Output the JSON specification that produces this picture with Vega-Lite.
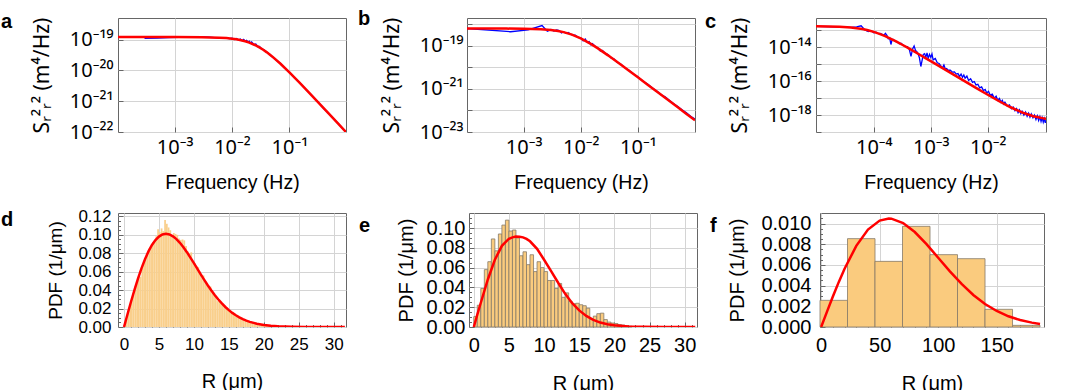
{
"$schema": "https://vega.github.io/schema/vega-lite/v6.json",
"padding": {"left": 0, "top": 8, "right": 5, "bottom": 0},
"bounds": "full",
"spacing": 14,
"datasets": {
"aBlue": [{"f":0.0003,"s":1.10e-19},{"f":0.0005,"s":1.13e-19},{"f":0.0008,"s":1.17e-19},{"f":0.0012,"s":1.20e-19},{"f":0.002,"s":1.22e-19},{"f":0.003,"s":1.23e-19},{"f":0.004,"s":1.20e-19},{"f":0.005,"s":1.17e-19},{"f":0.006,"s":1.12e-19},{"f":0.007,"s":1.15e-19},{"f":0.008,"s":1.12e-19},{"f":0.009,"s":1.08e-19},{"f":0.010,"s":1.12e-19},{"f":0.011,"s":1.02e-19},{"f":0.012,"s":1.09e-19},{"f":0.013,"s":0.97e-19},{"f":0.014,"s":1.05e-19},{"f":0.015,"s":0.93e-19},{"f":0.016,"s":1.02e-19},{"f":0.017,"s":0.90e-19},{"f":0.018,"s":0.96e-19},{"f":0.019,"s":0.84e-19},{"f":0.020,"s":0.90e-19},{"f":0.021,"s":0.78e-19},{"f":0.022,"s":0.84e-19},{"f":0.024,"s":0.70e-19},{"f":0.026,"s":0.72e-19},{"f":0.028,"s":0.60e-19},{"f":0.030,"s":0.60e-19},{"f":0.033,"s":0.50e-19},{"f":0.036,"s":0.47e-19},{"f":0.040,"s":0.40e-19},{"f":0.045,"s":0.34e-19},{"f":0.050,"s":0.28e-19},{"f":0.06,"s":2.1e-20},{"f":0.07,"s":1.68e-20},{"f":0.08,"s":1.27e-20},{"f":0.1,"s":8.9e-21},{"f":0.12,"s":6.0e-21},{"f":0.15,"s":4.1e-21},{"f":0.2,"s":2.25e-21},{"f":0.25,"s":1.52e-21},{"f":0.3,"s":1.05e-21},{"f":0.4,"s":5.7e-22},{"f":0.5,"s":3.8e-22},{"f":0.6,"s":2.6e-22},{"f":0.7,"s":1.95e-22},{"f":0.8,"s":1.45e-22},{"f":0.968,"s":1.0e-22}],
"aFit": [{"f":0.0001035,"s":1.22e-19},{"f":0.001,"s":1.218e-19},{"f":0.003,"s":1.206e-19},{"f":0.006,"s":1.165e-19},{"f":0.008,"s":1.126e-19},{"f":0.01,"s":1.079e-19},{"f":0.012,"s":1.027e-19},{"f":0.015,"s":9.43e-20},{"f":0.017,"s":8.86e-20},{"f":0.02,"s":8.02e-20},{"f":0.025,"s":6.72e-20},{"f":0.03,"s":5.61e-20},{"f":0.035,"s":4.70e-20},{"f":0.04,"s":3.95e-20},{"f":0.05,"s":2.865e-20},{"f":0.07,"s":1.652e-20},{"f":0.1,"s":8.69e-21},{"f":0.15,"s":4.02e-21},{"f":0.2,"s":2.296e-21},{"f":0.3,"s":1.031e-21},{"f":0.5,"s":3.733e-22},{"f":0.7,"s":1.908e-22},{"f":0.968,"s":9.98e-23}],
"bBlue": [{"f":0.000102,"s":6.5e-19},{"f":0.00059,"s":4.6e-19},{"f":0.0012,"s":5.6e-19},{"f":0.0021,"s":8.9e-19},{"f":0.0026,"s":4.9e-19},{"f":0.003,"s":5.8e-19},{"f":0.0034,"s":5.0e-19},{"f":0.0038,"s":5.6e-19},{"f":0.0042,"s":5.2e-19},{"f":0.0046,"s":4.0e-19},{"f":0.005,"s":4.6e-19},{"f":0.0055,"s":3.9e-19},{"f":0.006,"s":4.2e-19},{"f":0.007,"s":3.3e-19},{"f":0.008,"s":3.2e-19},{"f":0.009,"s":2.5e-19},{"f":0.010,"s":2.4e-19},{"f":0.011,"s":1.75e-19},{"f":0.012,"s":2.1e-19},{"f":0.013,"s":1.45e-19},{"f":0.014,"s":1.6e-19},{"f":0.015,"s":1.15e-19},{"f":0.016,"s":1.3e-19},{"f":0.018,"s":0.95e-19},{"f":0.020,"s":0.8e-19},{"f":0.022,"s":0.58e-19},{"f":0.024,"s":0.62e-19},{"f":0.027,"s":0.45e-19},{"f":0.030,"s":0.40e-19},{"f":0.034,"s":0.28e-19},{"f":0.038,"s":0.25e-19},{"f":0.043,"s":1.75e-20},{"f":0.05,"s":1.45e-20},{"f":0.06,"s":0.95e-20},{"f":0.07,"s":7.4e-21},{"f":0.085,"s":4.8e-21},{"f":0.1,"s":3.7e-21},{"f":0.12,"s":2.4e-21},{"f":0.15,"s":1.65e-21},{"f":0.18,"s":1.1e-21},{"f":0.22,"s":7.6e-22},{"f":0.26,"s":5.2e-22},{"f":0.3,"s":4.3e-22},{"f":0.36,"s":2.9e-22},{"f":0.42,"s":2.1e-22},{"f":0.5,"s":1.55e-22},{"f":0.6,"s":1.05e-22},{"f":0.7,"s":8.0e-23},{"f":0.85,"s":5.3e-23},{"f":1.0,"s":4.0e-23}],
"bFit": [{"f":0.000102,"s":6.46e-19},{"f":0.0005,"s":6.43e-19},{"f":0.001,"s":6.34e-19},{"f":0.002,"s":6.015e-19},{"f":0.003,"s":5.54e-19},{"f":0.004,"s":4.987e-19},{"f":0.005,"s":4.42e-19},{"f":0.007,"s":3.392e-19},{"f":0.01,"s":2.27e-19},{"f":0.015,"s":1.253e-19},{"f":0.02,"s":7.705e-20},{"f":0.03,"s":3.668e-20},{"f":0.05,"s":1.37e-20},{"f":0.07,"s":7.063e-21},{"f":0.1,"s":3.48e-21},{"f":0.15,"s":1.551e-21},{"f":0.2,"s":8.737e-22},{"f":0.3,"s":3.887e-22},{"f":0.5,"s":1.4e-22},{"f":0.7,"s":7.14e-23},{"f":1.0,"s":3.5e-23}],
"cBlue": [{"f":1.0e-5,"s":1.70e-13},{"f":2.0e-5,"s":1.62e-13},{"f":3.0e-5,"s":1.55e-13},{"f":4.0e-5,"s":1.50e-13},{"f":5.0e-5,"s":1.58e-13},{"f":6.0e-5,"s":1.85e-13},{"f":7.0e-5,"s":1.05e-13},{"f":8.0e-5,"s":8.5e-14},{"f":9.0e-5,"s":9.5e-14},{"f":1.0e-4,"s":7.2e-14},{"f":1.1e-4,"s":7.8e-14},{"f":1.2e-4,"s":6.3e-14},{"f":1.3e-4,"s":6.5e-14},{"f":1.4e-4,"s":5.8e-14},{"f":1.5e-4,"s":5.0e-14},{"f":1.6e-4,"s":6.6e-14},{"f":1.7e-4,"s":5.0e-14},{"f":1.8e-4,"s":3.2e-14},{"f":1.9e-4,"s":3.6e-14},{"f":2.0e-4,"s":1.45e-14},{"f":2.1e-4,"s":2.8e-14},{"f":2.2e-4,"s":2.9e-14},{"f":2.4e-4,"s":2.2e-14},{"f":2.6e-4,"s":2.0e-14},{"f":2.8e-4,"s":1.6e-14},{"f":3.0e-4,"s":1.7e-14},{"f":3.3e-4,"s":1.3e-14},{"f":3.6e-4,"s":1.1e-14},{"f":3.9e-4,"s":1.1e-14},{"f":4.2e-4,"s":7.5e-15},{"f":4.5e-4,"s":2.9e-15},{"f":4.8e-4,"s":8.0e-15},{"f":5.1e-4,"s":1.2e-14},{"f":5.4e-4,"s":6.5e-15},{"f":5.7e-4,"s":5.5e-15},{"f":6.0e-4,"s":4.0e-15},{"f":6.3e-4,"s":2.5e-15},{"f":6.7e-4,"s":7.3e-16},{"f":7.0e-4,"s":1.5e-15},{"f":7.4e-4,"s":3.8e-15},{"f":7.8e-4,"s":4.2e-15},{"f":8.2e-4,"s":2.6e-15},{"f":8.6e-4,"s":4.6e-15},{"f":9.0e-4,"s":2.2e-15},{"f":9.5e-4,"s":3.8e-15},{"f":1.0e-3,"s":2.5e-15},{"f":1.05e-3,"s":4.0e-15},{"f":1.1e-3,"s":1.8e-15},{"f":1.2e-3,"s":2.2e-15},{"f":1.3e-3,"s":1.2e-15},{"f":1.4e-3,"s":1.1e-15},{"f":1.5e-3,"s":8.0e-16},{"f":1.6e-3,"s":6.0e-16},{"f":1.7e-3,"s":9.0e-16},{"f":1.8e-3,"s":5.2e-16},{"f":1.9e-3,"s":5.5e-16},{"f":2.0e-3,"s":4.4e-16},{"f":2.2e-3,"s":4.5e-16},{"f":2.4e-3,"s":3.4e-16},{"f":2.6e-3,"s":3.5e-16},{"f":2.8e-3,"s":2.6e-16},{"f":3.0e-3,"s":2.8e-16},{"f":3.2e-3,"s":1.9e-16},{"f":3.4e-3,"s":2.6e-16},{"f":3.6e-3,"s":1.7e-16},{"f":3.8e-3,"s":2.3e-16},{"f":4.0e-3,"s":1.5e-16},{"f":4.3e-3,"s":2.0e-16},{"f":4.6e-3,"s":1.1e-16},{"f":5.0e-3,"s":1.4e-16},{"f":5.4e-3,"s":8.5e-17},{"f":5.8e-3,"s":9.5e-17},{"f":6.2e-3,"s":6.0e-17},{"f":6.7e-3,"s":6.5e-17},{"f":7.2e-3,"s":4.0e-17},{"f":7.8e-3,"s":4.6e-17},{"f":8.4e-3,"s":2.8e-17},{"f":9.0e-3,"s":3.2e-17},{"f":9.6e-3,"s":2.0e-17},{"f":0.0103,"s":2.5e-17},{"f":0.011,"s":1.5e-17},{"f":0.012,"s":1.7e-17},{"f":0.013,"s":1.0e-17},{"f":0.014,"s":1.3e-17},{"f":0.015,"s":7.5e-18},{"f":0.016,"s":9.5e-18},{"f":0.017,"s":5.8e-18},{"f":0.018,"s":7.4e-18},{"f":0.019,"s":4.5e-18},{"f":0.020,"s":5.8e-18},{"f":0.022,"s":3.4e-18},{"f":0.024,"s":4.0e-18},{"f":0.026,"s":2.4e-18},{"f":0.028,"s":3.0e-18},{"f":0.030,"s":1.8e-18},{"f":0.032,"s":2.4e-18},{"f":0.034,"s":1.4e-18},{"f":0.036,"s":2.0e-18},{"f":0.038,"s":1.2e-18},{"f":0.040,"s":1.7e-18},{"f":0.043,"s":1.0e-18},{"f":0.046,"s":1.5e-18},{"f":0.049,"s":8.5e-19},{"f":0.052,"s":1.3e-18},{"f":0.055,"s":7.5e-19},{"f":0.058,"s":1.15e-18},{"f":0.062,"s":6.8e-19},{"f":0.066,"s":1.0e-18},{"f":0.070,"s":5.5e-19},{"f":0.074,"s":9.0e-19},{"f":0.078,"s":4.8e-19},{"f":0.082,"s":8.0e-19},{"f":0.086,"s":4.2e-19},{"f":0.090,"s":7.0e-19},{"f":0.094,"s":3.8e-19},{"f":0.098,"s":6.2e-19},{"f":0.102,"s":3.5e-19},{"f":0.105,"s":5.0e-19}],
"cFit": [{"f":9.7e-6,"s":1.70e-13},{"f":1.585e-5,"s":1.67e-13},{"f":2.512e-5,"s":1.603e-13},{"f":3.981e-5,"s":1.459e-13},{"f":6.31e-5,"s":1.186e-13},{"f":7.943e-5,"s":1.005e-13},{"f":1e-4,"s":8.07e-14},{"f":1.259e-4,"s":6.17e-14},{"f":1.585e-4,"s":4.49e-14},{"f":1.995e-4,"s":3.13e-14},{"f":2.512e-4,"s":2.12e-14},{"f":3.162e-4,"s":1.40e-14},{"f":3.981e-4,"s":9.10e-15},{"f":5.012e-4,"s":5.86e-15},{"f":6.31e-4,"s":3.74e-15},{"f":7.943e-4,"s":2.38e-15},{"f":1e-3,"s":1.51e-15},{"f":1.585e-3,"s":6.03e-16},{"f":2.512e-3,"s":2.42e-16},{"f":3.981e-3,"s":9.6e-17},{"f":6.31e-3,"s":3.88e-17},{"f":0.01,"s":1.57e-17},{"f":0.01585,"s":6.53e-18},{"f":0.02512,"s":2.88e-18},{"f":0.03981,"s":1.43e-18},{"f":0.0631,"s":8.48e-19},{"f":0.1,"s":6.17e-19},{"f":0.1054,"s":6.02e-19}],
"dBars": [{"r0":0.00,"r1":0.25,"p":0.0030},{"r0":0.25,"r1":0.50,"p":0.0095},{"r0":0.50,"r1":0.75,"p":0.0180},{"r0":0.75,"r1":1.00,"p":0.0235},{"r0":1.00,"r1":1.25,"p":0.0320},{"r0":1.25,"r1":1.50,"p":0.0350},{"r0":1.50,"r1":1.75,"p":0.0445},{"r0":1.75,"r1":2.00,"p":0.0480},{"r0":2.00,"r1":2.25,"p":0.0560},{"r0":2.25,"r1":2.50,"p":0.0545},{"r0":2.50,"r1":2.75,"p":0.0640},{"r0":2.75,"r1":3.00,"p":0.0700},{"r0":3.00,"r1":3.25,"p":0.0760},{"r0":3.25,"r1":3.50,"p":0.0780},{"r0":3.50,"r1":3.75,"p":0.0850},{"r0":3.75,"r1":4.00,"p":0.0860},{"r0":4.00,"r1":4.25,"p":0.0920},{"r0":4.25,"r1":4.50,"p":0.0930},{"r0":4.50,"r1":4.75,"p":0.0985},{"r0":4.75,"r1":5.00,"p":0.1060},{"r0":5.00,"r1":5.25,"p":0.1030},{"r0":5.25,"r1":5.50,"p":0.1070},{"r0":5.50,"r1":5.75,"p":0.1040},{"r0":5.75,"r1":6.00,"p":0.1160},{"r0":6.00,"r1":6.25,"p":0.1120},{"r0":6.25,"r1":6.50,"p":0.1080},{"r0":6.50,"r1":6.75,"p":0.1050},{"r0":6.75,"r1":7.00,"p":0.0990},{"r0":7.00,"r1":7.25,"p":0.1020},{"r0":7.25,"r1":7.50,"p":0.1010},{"r0":7.50,"r1":7.75,"p":0.1000},{"r0":7.75,"r1":8.00,"p":0.0960},{"r0":8.00,"r1":8.25,"p":0.0945},{"r0":8.25,"r1":8.50,"p":0.0950},{"r0":8.50,"r1":8.75,"p":0.0940},{"r0":8.75,"r1":9.00,"p":0.0880},{"r0":9.00,"r1":9.25,"p":0.0820},{"r0":9.25,"r1":9.50,"p":0.0800},{"r0":9.50,"r1":9.75,"p":0.0810},{"r0":9.75,"r1":10.00,"p":0.0700},{"r0":10.00,"r1":10.25,"p":0.0690},{"r0":10.25,"r1":10.50,"p":0.0660},{"r0":10.50,"r1":10.75,"p":0.0650},{"r0":10.75,"r1":11.00,"p":0.0600},{"r0":11.00,"r1":11.25,"p":0.0530},{"r0":11.25,"r1":11.50,"p":0.0560},{"r0":11.50,"r1":11.75,"p":0.0490},{"r0":11.75,"r1":12.00,"p":0.0470},{"r0":12.00,"r1":12.25,"p":0.0420},{"r0":12.25,"r1":12.50,"p":0.0440},{"r0":12.50,"r1":12.75,"p":0.0380},{"r0":12.75,"r1":13.00,"p":0.0360},{"r0":13.00,"r1":13.25,"p":0.0330},{"r0":13.25,"r1":13.50,"p":0.0280},{"r0":13.50,"r1":13.75,"p":0.0300},{"r0":13.75,"r1":14.00,"p":0.0270},{"r0":14.00,"r1":14.25,"p":0.0240},{"r0":14.25,"r1":14.50,"p":0.0230},{"r0":14.50,"r1":14.75,"p":0.0215},{"r0":14.75,"r1":15.00,"p":0.0190},{"r0":15.00,"r1":15.25,"p":0.0175},{"r0":15.25,"r1":15.50,"p":0.0165},{"r0":15.50,"r1":15.75,"p":0.0145},{"r0":15.75,"r1":16.00,"p":0.0135},{"r0":16.00,"r1":16.25,"p":0.0120},{"r0":16.25,"r1":16.50,"p":0.0112},{"r0":16.50,"r1":16.75,"p":0.0100},{"r0":16.75,"r1":17.00,"p":0.0092},{"r0":17.00,"r1":17.25,"p":0.0080},{"r0":17.25,"r1":17.50,"p":0.0075},{"r0":17.50,"r1":17.75,"p":0.0068},{"r0":17.75,"r1":18.00,"p":0.0058},{"r0":18.00,"r1":18.25,"p":0.0054},{"r0":18.25,"r1":18.50,"p":0.0047},{"r0":18.50,"r1":18.75,"p":0.0044},{"r0":18.75,"r1":19.00,"p":0.0037},{"r0":19.00,"r1":19.25,"p":0.0034},{"r0":19.25,"r1":19.50,"p":0.0029},{"r0":19.50,"r1":19.75,"p":0.0027},{"r0":19.75,"r1":20.00,"p":0.0022},{"r0":20.00,"r1":20.25,"p":0.0020},{"r0":20.25,"r1":20.50,"p":0.0018},{"r0":20.50,"r1":20.75,"p":0.0015},{"r0":20.75,"r1":21.00,"p":0.0013},{"r0":21.00,"r1":21.25,"p":0.0012},{"r0":21.25,"r1":21.50,"p":0.0010},{"r0":21.50,"r1":21.75,"p":0.0008},{"r0":21.75,"r1":22.00,"p":0.0007},{"r0":22.00,"r1":22.25,"p":0.0006},{"r0":22.25,"r1":22.50,"p":0.0005},{"r0":22.50,"r1":22.75,"p":0.0004},{"r0":22.75,"r1":23.00,"p":0.0004},{"r0":23.00,"r1":23.25,"p":0.0003},{"r0":23.25,"r1":23.50,"p":0.0003},{"r0":23.50,"r1":23.75,"p":0.0002},{"r0":23.75,"r1":24.00,"p":0.0002}],
"dFit": [{"r":0,"p":0},{"r":0.5,"p":0.01384},{"r":1,"p":0.0274},{"r":1.5,"p":0.04039},{"r":2,"p":0.0526},{"r":2.5,"p":0.06367},{"r":3,"p":0.0735},{"r":3.5,"p":0.08201},{"r":4,"p":0.089},{"r":4.5,"p":0.09436},{"r":5,"p":0.0981},{"r":5.5,"p":0.10038},{"r":6,"p":0.1011},{"r":6.5,"p":0.10041},{"r":7,"p":0.0984},{"r":7.5,"p":0.09538},{"r":8,"p":0.0914},{"r":8.5,"p":0.08656},{"r":9,"p":0.0812},{"r":9.5,"p":0.07534},{"r":10,"p":0.0693},{"r":10.5,"p":0.06307},{"r":11,"p":0.0569},{"r":11.5,"p":0.05089},{"r":12,"p":0.0451},{"r":12.5,"p":0.03964},{"r":13,"p":0.0345},{"r":13.5,"p":0.02984},{"r":14,"p":0.0256},{"r":14.5,"p":0.02173},{"r":15,"p":0.0183},{"r":15.5,"p":0.01531},{"r":16,"p":0.0127},{"r":16.5,"p":0.01045},{"r":17,"p":0.0085},{"r":17.5,"p":0.00691},{"r":18,"p":0.0056},{"r":19,"p":0.0035},{"r":20,"p":0.0022},{"r":21,"p":0.0013},{"r":22,"p":0.00074},{"r":23,"p":0.00041},{"r":24,"p":0.00022},{"r":26,"p":0.00006},{"r":28,"p":0.000015},{"r":31.6,"p":0}],
"eBars": [{"r0":0,"r1":0.5,"p":0.0105},{"r0":0.5,"r1":1,"p":0.022},{"r0":1,"r1":1.5,"p":0.039},{"r0":1.5,"r1":2,"p":0.058},{"r0":2,"r1":2.5,"p":0.066},{"r0":2.5,"r1":3,"p":0.089},{"r0":3,"r1":3.5,"p":0.077},{"r0":3.5,"r1":4,"p":0.094},{"r0":4,"r1":4.5,"p":0.103},{"r0":4.5,"r1":5,"p":0.108},{"r0":5,"r1":5.5,"p":0.097},{"r0":5.5,"r1":6,"p":0.098},{"r0":6,"r1":6.5,"p":0.090},{"r0":6.5,"r1":7,"p":0.072},{"r0":7,"r1":7.5,"p":0.076},{"r0":7.5,"r1":8,"p":0.063},{"r0":8,"r1":8.5,"p":0.073},{"r0":8.5,"r1":9,"p":0.056},{"r0":9,"r1":9.5,"p":0.066},{"r0":9.5,"r1":10,"p":0.060},{"r0":10,"r1":10.5,"p":0.056},{"r0":10.5,"r1":11,"p":0.047},{"r0":11,"r1":11.5,"p":0.047},{"r0":11.5,"r1":12,"p":0.039},{"r0":12,"r1":12.5,"p":0.044},{"r0":12.5,"r1":13,"p":0.030},{"r0":13,"r1":13.5,"p":0.0345},{"r0":13.5,"r1":14,"p":0.026},{"r0":14,"r1":14.5,"p":0.0235},{"r0":14.5,"r1":15,"p":0.024},{"r0":15,"r1":15.5,"p":0.0225},{"r0":15.5,"r1":16,"p":0.0215},{"r0":16,"r1":16.5,"p":0.019},{"r0":16.5,"r1":17,"p":0.008},{"r0":17,"r1":17.5,"p":0.011},{"r0":17.5,"r1":18,"p":0.0135},{"r0":18,"r1":18.5,"p":0.014},{"r0":18.5,"r1":19,"p":0.0075},{"r0":19,"r1":19.5,"p":0.005},{"r0":19.5,"r1":20,"p":0.004},{"r0":20,"r1":20.5,"p":0.0035},{"r0":20.5,"r1":21,"p":0.0025},{"r0":21,"r1":21.5,"p":0.002},{"r0":21.5,"r1":22,"p":0.0012},{"r0":22,"r1":22.5,"p":0.0008}],
"eFit": [{"r":0,"p":0},{"r":0.5,"p":0.0125},{"r":1,"p":0.0245},{"r":2,"p":0.048},{"r":3,"p":0.068},{"r":4,"p":0.082},{"r":5,"p":0.0892},{"r":5.5,"p":0.0906},{"r":6,"p":0.0915},{"r":6.5,"p":0.0913},{"r":7,"p":0.0906},{"r":7.5,"p":0.089},{"r":8,"p":0.0866},{"r":9,"p":0.079},{"r":10,"p":0.068},{"r":11,"p":0.0565},{"r":12,"p":0.0447},{"r":13,"p":0.0335},{"r":14,"p":0.024},{"r":15,"p":0.0168},{"r":16,"p":0.0112},{"r":17,"p":0.0072},{"r":18,"p":0.0045},{"r":19,"p":0.0028},{"r":20,"p":0.0017},{"r":22,"p":0.0006},{"r":24,"p":0.0002},{"r":27,"p":0.00003},{"r":31.5,"p":0}],
"fBars": [{"r0":-1,"r1":22.5,"p":0.00258},{"r0":22.5,"r1":46,"p":0.00855},{"r0":46,"r1":69.5,"p":0.00635},{"r0":69.5,"r1":93,"p":0.00974},{"r0":93,"r1":116.5,"p":0.0070},{"r0":116.5,"r1":140,"p":0.00661},{"r0":140,"r1":163.5,"p":0.00171},{"r0":163.5,"r1":187,"p":0.00016}],
"fFit": [{"r":0,"p":0},{"r":5,"p":0.001488},{"r":10,"p":0.002949},{"r":15,"p":0.00434},{"r":20,"p":0.005638},{"r":30,"p":0.007848},{"r":40,"p":0.009423},{"r":50,"p":0.010295},{"r":57.8,"p":0.010494},{"r":60,"p":0.010479},{"r":70,"p":0.010063},{"r":80,"p":0.009188},{"r":90,"p":0.008014},{"r":100,"p":0.006701},{"r":110,"p":0.005383},{"r":120,"p":0.004163},{"r":130,"p":0.003102},{"r":140,"p":0.00223},{"r":150,"p":0.001548},{"r":160,"p":0.001038},{"r":170,"p":0.000673},{"r":180,"p":0.000422},{"r":187,"p":0.000299}]
},
"vconcat": [
{"hconcat": [
 {"width": 228, "height": 114,
  "title": {"text": "a", "anchor": "start", "frame": "group", "offset": -31, "dx": -117, "baseline": "alphabetic", "fontSize": 20, "fontWeight": "bold", "color": "#000"},
  "layer": [
   {"data": {"name": "aBlue"}, "mark": {"type": "line", "color": "#0000ff", "strokeWidth": 1.3, "clip": true},
    "encoding": {
     "x": {"field": "f", "type": "quantitative", "title": "Frequency (Hz)", "scale": {"type": "log", "domain": [0.0001035, 0.968], "nice": false},
      "axis": {"values": [0.001, 0.01, 0.1], "labelExpr": "datum.value < 0.003 ? '10⁻³' : datum.value < 0.03 ? '10⁻²' : '10⁻¹'", "labelFont": "Noto Sans", "labelFontSize": 20, "labelPadding": 10, "titleFontSize": 19.5, "titlePadding": 16}},
     "y": {"field": "s", "type": "quantitative", "title": "Sᵣ²ᵣ² (m⁴/Hz)", "scale": {"type": "log", "domain": [1e-22, 5.07e-19], "nice": false},
      "axis": {"values": [1e-22, 1e-21, 1e-20, 1e-19], "labelExpr": "datum.value < 3e-22 ? '10⁻²²' : datum.value < 3e-21 ? '10⁻²¹' : datum.value < 3e-20 ? '10⁻²⁰' : '10⁻¹⁹'", "labelFont": "Noto Sans", "labelFontSize": 20, "labelPadding": 10, "titleFont": "Noto Sans", "titleFontSize": 21, "titlePadding": 17}}
    }},
   {"data": {"name": "aFit"}, "mark": {"type": "line", "color": "#ff0000", "strokeWidth": 2.5, "clip": true},
    "encoding": {"x": {"field": "f", "type": "quantitative", "title": "Frequency (Hz)"}, "y": {"field": "s", "type": "quantitative", "title": "Sᵣ²ᵣ² (m⁴/Hz)"}}}
  ]},
 {"width": 228, "height": 114,
  "title": {"text": "b", "anchor": "start", "frame": "group", "offset": -31, "dx": -109, "baseline": "alphabetic", "fontSize": 20, "fontWeight": "bold", "color": "#000"},
  "layer": [
   {"data": {"name": "bBlue"}, "mark": {"type": "line", "color": "#0000ff", "strokeWidth": 1.3, "clip": true},
    "encoding": {
     "x": {"field": "f", "type": "quantitative", "title": "Frequency (Hz)", "scale": {"type": "log", "domain": [0.000102, 1.0], "nice": false},
      "axis": {"values": [0.001, 0.01, 0.1], "labelExpr": "datum.value < 0.003 ? '10⁻³' : datum.value < 0.03 ? '10⁻²' : '10⁻¹'", "labelFont": "Noto Sans", "labelFontSize": 20, "labelPadding": 10, "titleFontSize": 19.5, "titlePadding": 16}},
     "y": {"field": "s", "type": "quantitative", "title": "Sᵣ²ᵣ² (m⁴/Hz)", "scale": {"type": "log", "domain": [1e-23, 2.0e-18], "nice": false},
      "axis": {"values": [1e-23, 1e-22, 1e-21, 1e-20, 1e-19, 1e-18], "labelExpr": "datum.value < 3e-23 ? '10⁻²³' : datum.value < 3e-22 ? '' : datum.value < 3e-21 ? '10⁻²¹' : datum.value < 3e-20 ? '' : datum.value < 3e-19 ? '10⁻¹⁹' : ''", "labelFont": "Noto Sans", "labelFontSize": 20, "labelPadding": 9, "titleFont": "Noto Sans", "titleFontSize": 21, "titlePadding": 17}}
    }},
   {"data": {"name": "bFit"}, "mark": {"type": "line", "color": "#ff0000", "strokeWidth": 2.5, "clip": true},
    "encoding": {"x": {"field": "f", "type": "quantitative", "title": "Frequency (Hz)"}, "y": {"field": "s", "type": "quantitative", "title": "Sᵣ²ᵣ² (m⁴/Hz)"}}}
  ]},
 {"width": 230, "height": 114,
  "title": {"text": "c", "anchor": "start", "frame": "group", "offset": -31, "dx": -111, "baseline": "alphabetic", "fontSize": 20, "fontWeight": "bold", "color": "#000"},
  "layer": [
   {"data": {"name": "cBlue"}, "mark": {"type": "line", "color": "#0000ff", "strokeWidth": 1.3, "clip": true},
    "encoding": {
     "x": {"field": "f", "type": "quantitative", "title": "Frequency (Hz)", "scale": {"type": "log", "domain": [0.0000097, 0.105], "nice": false},
      "axis": {"values": [0.0001, 0.001, 0.01], "labelExpr": "datum.value < 0.0003 ? '10⁻⁴' : datum.value < 0.003 ? '10⁻³' : '10⁻²'", "labelFont": "Noto Sans", "labelFontSize": 20, "labelPadding": 10, "titleFontSize": 19.5, "titlePadding": 16}},
     "y": {"field": "s", "type": "quantitative", "title": "Sᵣ²ᵣ² (m⁴/Hz)", "scale": {"type": "log", "domain": [1e-19, 5.3e-13], "nice": false},
      "axis": {"values": [1e-19, 1e-18, 1e-17, 1e-16, 1e-15, 1e-14, 1e-13], "labelExpr": "datum.value < 3e-19 ? '' : datum.value < 3e-18 ? '10⁻¹⁸' : datum.value < 3e-17 ? '' : datum.value < 3e-16 ? '10⁻¹⁶' : datum.value < 3e-15 ? '' : datum.value < 3e-14 ? '10⁻¹⁴' : ''", "labelFont": "Noto Sans", "labelFontSize": 20, "labelPadding": 10, "titleFont": "Noto Sans", "titleFontSize": 21, "titlePadding": 17}}
    }},
   {"data": {"name": "cFit"}, "mark": {"type": "line", "color": "#ff0000", "strokeWidth": 2.5, "clip": true},
    "encoding": {"x": {"field": "f", "type": "quantitative", "title": "Frequency (Hz)"}, "y": {"field": "s", "type": "quantitative", "title": "Sᵣ²ᵣ² (m⁴/Hz)"}}}
  ]}
 ], "spacing": 121, "bounds": "flush"},
{"hconcat": [
 {"width": 228, "height": 114,
  "title": {"text": "d", "anchor": "start", "frame": "group", "offset": -39, "dx": -117, "baseline": "alphabetic", "fontSize": 20, "fontWeight": "bold", "color": "#000"},
  "layer": [
   {"data": {"name": "dBars"}, "mark": {"type": "rect", "fill": "#F9CF8C", "strokeWidth": 0},
    "encoding": {
     "x": {"field": "r0", "type": "quantitative", "title": "R (μm)", "scale": {"domain": [-0.86, 31.76], "nice": false, "zero": false},
      "axis": {"values": [0, 5, 10, 15, 20, 25, 30], "labelFontSize": 17, "labelPadding": 14, "titleFontSize": 20, "titlePadding": 19}},
     "x2": {"field": "r1"},
     "y": {"field": "p", "type": "quantitative", "title": "PDF (1/μm)", "scale": {"domain": [0, 0.1237], "nice": false},
      "axis": {"values": [0, 0.02, 0.04, 0.06, 0.08, 0.1, 0.12], "format": ".2f", "labelFontSize": 17, "labelPadding": 12, "titleFontSize": 19, "titlePadding": 12}}
    }},
   {"data": {"name": "dFit"}, "mark": {"type": "line", "color": "#ff0000", "strokeWidth": 2.5, "clip": true},
    "encoding": {
     "x": {"field": "r", "type": "quantitative", "axis": {"orient": "bottom", "title": null, "labels": false, "grid": false, "tickSize": -2.5, "values": [1,2,3,4,6,7,8,9,11,12,13,14,16,17,18,19,21,22,23,24,26,27,28,29,31]}},
     "y": {"field": "p", "type": "quantitative", "axis": {"orient": "left", "title": null, "labels": false, "grid": false, "tickSize": -2.5, "values": [0.005,0.01,0.015,0.025,0.03,0.035,0.045,0.05,0.055,0.065,0.07,0.075,0.085,0.09,0.095,0.105,0.11,0.115]}}
    }}
  ],
  "resolve": {"axis": {"x": "independent", "y": "independent"}}},
 {"width": 228, "height": 114,
  "title": {"text": "e", "anchor": "start", "frame": "group", "offset": -39, "dx": -110, "baseline": "alphabetic", "fontSize": 20, "fontWeight": "bold", "color": "#000"},
  "layer": [
   {"data": {"name": "eBars"}, "mark": {"type": "rect", "fill": "#FACB7E", "stroke": "#857a68", "strokeWidth": 0.8},
    "encoding": {
     "x": {"field": "r0", "type": "quantitative", "title": "R (μm)", "scale": {"domain": [-0.68, 31.75], "nice": false, "zero": false},
      "axis": {"values": [0, 5, 10, 15, 20, 25, 30], "labelFontSize": 20, "labelPadding": 13, "titleFontSize": 20, "titlePadding": 18}},
     "x2": {"field": "r1"},
     "y": {"field": "p", "type": "quantitative", "title": "PDF (1/μm)", "scale": {"domain": [0, 0.1152], "nice": false},
      "axis": {"values": [0, 0.02, 0.04, 0.06, 0.08, 0.1], "format": ".2f", "labelFontSize": 20, "labelPadding": 9, "titleFontSize": 20, "titlePadding": 10}}
    }},
   {"data": {"name": "eFit"}, "mark": {"type": "line", "color": "#ff0000", "strokeWidth": 2.5, "clip": true},
    "encoding": {
     "x": {"field": "r", "type": "quantitative", "axis": {"orient": "bottom", "title": null, "labels": false, "grid": false, "tickSize": -2.5, "values": [1,2,3,4,6,7,8,9,11,12,13,14,16,17,18,19,21,22,23,24,26,27,28,29,31]}},
     "y": {"field": "p", "type": "quantitative", "axis": {"orient": "left", "title": null, "labels": false, "grid": false, "tickSize": -2.5, "values": [0.005,0.01,0.015,0.025,0.03,0.035,0.045,0.05,0.055,0.065,0.07,0.075,0.085,0.09,0.095,0.105,0.11]}}
    }}
  ],
  "resolve": {"axis": {"x": "independent", "y": "independent"}}},
 {"width": 224, "height": 114,
  "title": {"text": "f", "anchor": "start", "frame": "group", "offset": -39, "dx": -110, "baseline": "alphabetic", "fontSize": 20, "fontWeight": "bold", "color": "#000"},
  "layer": [
   {"data": {"name": "fBars"}, "mark": {"type": "rect", "fill": "#FACB7E", "stroke": "#857a68", "strokeWidth": 0.8},
    "encoding": {
     "x": {"field": "r0", "type": "quantitative", "title": "R (μm)", "scale": {"domain": [-1, 190.4], "nice": false, "zero": false},
      "axis": {"values": [0, 50, 100, 150], "labelFontSize": 20, "labelPadding": 13, "titleFontSize": 20, "titlePadding": 18}},
     "x2": {"field": "r1"},
     "y": {"field": "p", "type": "quantitative", "title": "PDF (1/μm)", "scale": {"domain": [0, 0.01103], "nice": false},
      "axis": {"values": [0, 0.002, 0.004, 0.006, 0.008, 0.01], "format": ".3f", "labelFontSize": 20, "labelPadding": 14, "titleFontSize": 20, "titlePadding": 13}}
    }},
   {"data": {"name": "fFit"}, "mark": {"type": "line", "color": "#ff0000", "strokeWidth": 2.5, "clip": true},
    "encoding": {
     "x": {"field": "r", "type": "quantitative", "axis": {"orient": "bottom", "title": null, "labels": false, "grid": false, "tickSize": -2.5, "values": [10,20,30,40,60,70,80,90,110,120,130,140,160,170,180]}},
     "y": {"field": "p", "type": "quantitative", "axis": {"orient": "left", "title": null, "labels": false, "grid": false, "tickSize": -2.5, "values": [0.0005,0.001,0.0015,0.0025,0.003,0.0035,0.0045,0.005,0.0055,0.0065,0.007,0.0075,0.0085,0.009,0.0095,0.0105]}}
    }}
  ],
  "resolve": {"axis": {"x": "independent", "y": "independent"}}}
 ], "spacing": 123, "bounds": "flush"}
],
"config": {
 "font": "Liberation Sans",
 "view": {"stroke": "#666666", "strokeWidth": 1},
 "axis": {"domain": false, "grid": true, "gridColor": "#d4d4d4", "gridWidth": 1, "tickColor": "#666666", "tickSize": -5, "labelFont": "Liberation Sans", "titleFont": "Liberation Sans", "labelColor": "#000000", "titleColor": "#000000", "titleFontWeight": "normal", "labelFlush": false, "labelOverlap": false, "labelBound": false}
}
}
